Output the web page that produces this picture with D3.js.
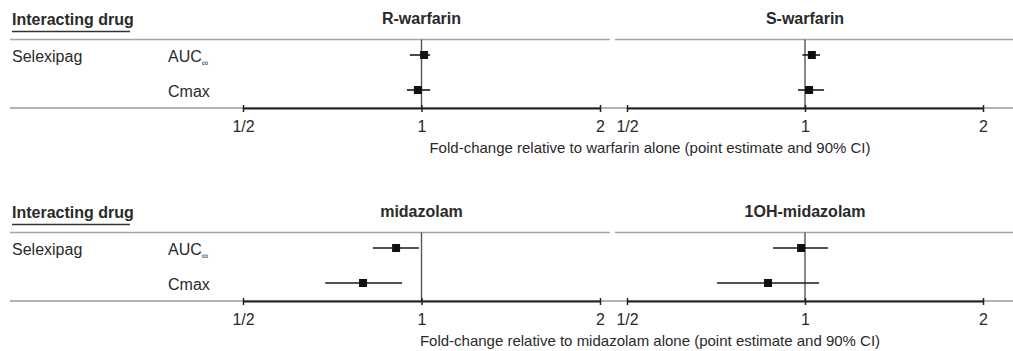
<!DOCTYPE html>
<html>
<head>
<meta charset="utf-8">
<script src="https://cdn.jsdelivr.net/npm/d3@7"></script>
<style>
  html, body { margin: 0; padding: 0; background: #fff; }
  svg { display: block; font-family: "Liberation Sans", Arial, sans-serif; }
</style>
</head>
<body>
<svg id="chart" width="1013" height="351"></svg>
<script>
// data
const drugName = "Selexipag";
const pkParams = ["AUC", "Cmax"];
const analytes = ["R-warfarin", "S-warfarin", "midazolam", "1OH-midazolam"];
const pointEst = [[1.01, 0.986], [1.027, 1.016], [0.906, 0.797], [0.985, 0.866]];
const ciLow = [[0.956, 0.945], [0.99, 0.973], [0.828, 0.688], [0.883, 0.71]];
const ciHigh = [[1.034, 1.034], [1.06, 1.077], [0.99, 0.927], [1.094, 1.056]];
const tickValues = [0.5, 1, 2];
const tickLabels = ["1/2", "1", "2"];
const axisTitles = [
  "Fold-change relative to warfarin alone (point estimate and 90% CI)",
  "Fold-change relative to midazolam alone (point estimate and 90% CI)"
];

const svg = d3.select("#chart");
const W = 1013;
const fontFamily = "Liberation Sans, Arial, sans-serif";

// layout
const blockOffsets = [0, 193];
const panelRanges = [[243, 600], [627, 983]];
const panelLines = [[10, 610], [615, W]];
const headerY = 39.5;
const axisY = 108;

const textColor = "#2a2a2a";
const fs = 16;

blockOffsets.forEach((off, b) => {
  const g = svg.append("g").attr("transform", `translate(0,${off})`);

  const y = d3.scalePoint().domain(pkParams).range([55, 90]);

  // left hand table text
  g.append("text")
    .attr("x", 12).attr("y", 25)
    .attr("font-size", fs).attr("font-weight", "bold")
    .attr("fill", textColor)
    .text("Interacting drug");
  g.append("line")
    .attr("x1", 12).attr("x2", 130)
    .attr("y1", 31.5).attr("y2", 31.5)
    .attr("stroke", "#333").attr("stroke-width", 1.6);

  g.append("text")
    .attr("x", 12).attr("y", y(pkParams[0]) + 7)
    .attr("font-size", fs).attr("fill", textColor)
    .text(drugName);

  pkParams.forEach((p) => {
    const t = g.append("text")
      .attr("x", 168).attr("y", y(p) + 7)
      .attr("font-size", fs).attr("fill", textColor)
      .text(p);
    if (p === "AUC") {
      t.append("tspan").attr("font-size", 9).attr("dy", 4).text("∞");
    }
  });

  // full-width bottom rule
  g.append("line")
    .attr("x1", 10).attr("x2", W)
    .attr("y1", axisY).attr("y2", axisY)
    .attr("stroke", "#9a9a9a").attr("stroke-width", 1.5);

  panelRanges.forEach((range, p) => {
    const k = b * 2 + p;
    const x = d3.scaleLog().base(2).domain([0.5, 2]).range(range);

    // header rule
    g.append("line")
      .attr("x1", panelLines[p][0]).attr("x2", panelLines[p][1])
      .attr("y1", headerY).attr("y2", headerY)
      .attr("stroke", "#a5a5a5").attr("stroke-width", 1.5);

    // panel title
    g.append("text")
      .attr("x", x(1)).attr("y", 24)
      .attr("text-anchor", "middle")
      .attr("font-size", fs).attr("font-weight", "bold")
      .attr("fill", textColor)
      .text(analytes[k]);

    // reference line at 1
    g.append("line")
      .attr("x1", x(1)).attr("x2", x(1))
      .attr("y1", headerY).attr("y2", axisY)
      .attr("stroke", "#555").attr("stroke-width", 1.4);

    // axis
    const axis = g.append("g")
      .attr("transform", `translate(0,${axisY})`)
      .call(d3.axisBottom(x)
        .tickValues(tickValues)
        .tickFormat((d, i) => tickLabels[i])
        .tickSize(4)
        .tickSizeOuter(0)
        .tickPadding(9));
    axis.select(".domain").attr("stroke", "#222").attr("stroke-width", 2);
    axis.selectAll(".tick line").attr("stroke", "#222").attr("stroke-width", 1.5)
      .attr("y1", -3);
    axis.selectAll(".tick text")
      .attr("font-size", fs)
      .attr("font-family", fontFamily)
      .attr("fill", textColor);

    // CIs and point estimates
    const rows = pkParams.map((param, i) => ({
      param, est: pointEst[k][i], lo: ciLow[k][i], hi: ciHigh[k][i]
    }));

    g.selectAll(null).data(rows).enter().append("line")
      .attr("x1", (d) => x(d.lo)).attr("x2", (d) => x(d.hi))
      .attr("y1", (d) => y(d.param)).attr("y2", (d) => y(d.param))
      .attr("stroke", "#1a1a1a").attr("stroke-width", 1.6);

    g.selectAll(null).data(rows).enter().append("rect")
      .attr("x", (d) => x(d.est) - 4).attr("y", (d) => y(d.param) - 4)
      .attr("width", 8).attr("height", 8)
      .attr("fill", "#111");
  });

  // axis title
  g.append("text")
    .attr("x", 650).attr("y", 153)
    .attr("text-anchor", "middle")
    .attr("font-size", 15).attr("fill", textColor)
    .text(axisTitles[b]);
});
</script>
</body>
</html>
